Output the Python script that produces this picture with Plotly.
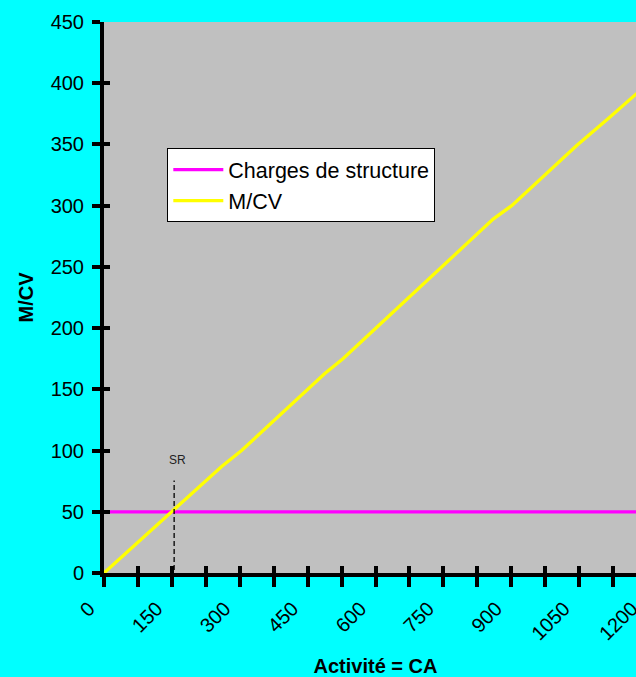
import plotly.graph_objects as go

# Activity (turnover) values where the contribution-margin line bends
ca = [0, 150, 260, 304, 488, 528, 711, 860, 901, 1044, 1117, 1200]
# Contribution margin (M/CV) at those activity levels
mcv = [0, 50, 87, 100, 163, 175, 238, 289, 300, 349, 372, 399]

# Fixed costs: flat across the whole activity range
charges_ca = [0, 1200]
charges = [50, 50]

# Break-even marker (seuil de rentabilité)
sr_ca = 155
sr_low, sr_high = 2.5, 75.5
sr_label_ca, sr_label_y = 163, 92

# Axis ticks: a mark every 75, a label every 150
x_ticks = list(range(0, 1201, 75))
x_ticktext = [str(v) if v % 150 == 0 else "" for v in x_ticks]
y_ticks = list(range(0, 451, 50))

FONT = "Liberation Sans, Arial, sans-serif"

fig = go.Figure()
fig.add_trace(go.Scatter(
    x=charges_ca, y=charges, mode="lines", name="Charges de structure",
    line=dict(color="#FF00FF", width=3.3),
))
fig.add_trace(go.Scatter(
    x=ca, y=mcv, mode="lines", name="M/CV",
    line=dict(color="#FFFF00", width=3.3),
))
# invisible copy on the overlay axes so they get drawn (inner tick halves)
fig.add_trace(go.Scatter(
    x=charges_ca, y=charges, xaxis="x2", yaxis="y2", mode="lines",
    line=dict(width=0), opacity=0, showlegend=False, hoverinfo="skip",
))

# dashed break-even guide
fig.add_shape(type="line", xref="x", yref="y",
              x0=sr_ca, x1=sr_ca, y0=sr_low, y1=sr_high,
              line=dict(color="#000000", width=1.3, dash="5px,3px"))
fig.add_annotation(x=sr_label_ca, y=sr_label_y, xref="x", yref="y",
                   text="SR", showarrow=False,
                   font=dict(family=FONT, size=12, color="#222222"))

fig.update_layout(
    width=655, height=677,
    margin=dict(l=104, r=8, t=22, b=104, autoexpand=False),
    paper_bgcolor="#00FFFF",
    plot_bgcolor="#C0C0C0",
    font=dict(family=FONT, color="#000000"),
    showlegend=True,
    legend=dict(
        x=0.1166, y=0.771, xanchor="left", yanchor="top",
        bgcolor="#FFFFFF", bordercolor="#000000", borderwidth=1,
        font=dict(family=FONT, size=21.5, color="#000000"),
        tracegroupgap=0, itemwidth=50,
    ),
    xaxis=dict(
        range=[0, 1200], tickmode="array", tickvals=x_ticks, ticktext=x_ticktext,
        tickangle=-45, tickfont=dict(size=20),
        ticklabelshift=-15, ticklabelstandoff=2,
        ticks="outside", ticklen=10, tickwidth=4, tickcolor="#000000",
        showline=True, linewidth=4, linecolor="#000000",
        showgrid=False, zeroline=False, automargin=False,
        title=dict(text="<b>Activité = CA</b>", font=dict(size=20), standoff=19),
    ),
    yaxis=dict(
        range=[0, 450], tickmode="array", tickvals=y_ticks,
        tickfont=dict(size=20), ticklabelstandoff=4,
        ticks="outside", ticklen=8, tickwidth=4, tickcolor="#000000",
        showline=True, linewidth=4, linecolor="#000000",
        showgrid=False, zeroline=False, automargin=False,
        title=dict(text="<b>M/CV</b>", font=dict(size=20), standoff=13),
    ),
    # overlay axes carrying the inner half of the crossing tick marks
    xaxis2=dict(
        overlaying="x", anchor="y", side="bottom", range=[0, 1200],
        tickmode="array", tickvals=x_ticks, showticklabels=False,
        ticks="inside", ticklen=7, tickwidth=4, tickcolor="#000000",
        showline=False, showgrid=False, zeroline=False, automargin=False,
    ),
    yaxis2=dict(
        overlaying="y", anchor="x", side="left", range=[0, 450],
        tickmode="array", tickvals=y_ticks, showticklabels=False,
        ticks="inside", ticklen=6, tickwidth=4, tickcolor="#000000",
        showline=False, showgrid=False, zeroline=False, automargin=False,
    ),
)

fig.write_html("out.html",
               post_script="document.body.style.overflow='hidden';")
